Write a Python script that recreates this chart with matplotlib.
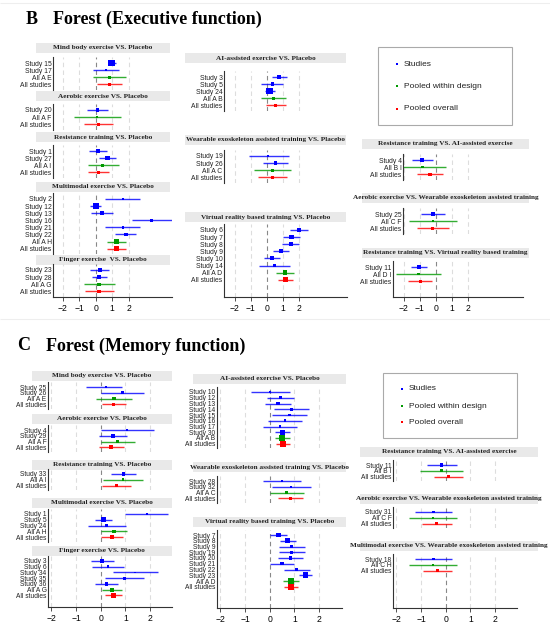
import matplotlib
matplotlib.use('Agg')
import matplotlib.pyplot as plt
from matplotlib.patches import Rectangle

W, H = 550, 632
BLUE, GREEN, RED = '#0000FF', '#009900', '#FF0000'
SANS = 'Liberation Sans'
SERIF = 'Liberation Serif'

# ---------------- data: B  Forest (Executive function) ----------------
b_mind_lab = ['Study 15', 'Study 17', 'All A E', 'All studies']
b_mind_est = [0.97, 0.63, 0.83, 0.83]
b_mind_lo = [0.73, -0.14, -0.14, 0.06]
b_mind_hi = [1.21, 1.43, 1.82, 1.60]
b_mind_wt = [5, 2, 2, 2.5]

b_aer_lab = ['Study 20', 'All A F', 'All studies']
b_aer_est = [0.10, 0.10, 0.16]
b_aer_lo = [-0.55, -1.31, -0.69]
b_aer_hi = [0.75, 1.52, 1.03]
b_aer_wt = [2.5, 1.5, 2]

b_res_lab = ['Study 1', 'Study 27', 'All A I', 'All studies']
b_res_est = [0.12, 0.73, 0.42, 0.16]
b_res_lo = [-0.38, 0.22, -0.50, -0.46]
b_res_hi = [0.67, 1.23, 1.41, 0.83]
b_res_wt = [3, 3.5, 2, 2.5]

b_mul_lab = ['Study 2', 'Study 12', 'Study 13', 'Study 16', 'Study 21', 'Study 22', 'All A H', 'All studies']
b_mul_est = [1.66, 0.00, 0.36, 3.41, 1.66, 1.82, 1.27, 1.25]
b_mul_lo = [0.59, -0.32, -0.26, 2.20, 0.59, 1.19, 0.69, 0.69]
b_mul_hi = [2.73, 0.34, 1.03, 4.65, 2.73, 2.48, 1.84, 1.82]
b_mul_wt = [2, 4.5, 3, 2, 2, 3, 3.5, 3.5]

b_fin_lab = ['Study 23', 'Study 28', 'All A G', 'All studies']
b_fin_est = [0.24, 0.20, 0.20, 0.20]
b_fin_lo = [-0.32, -0.24, -0.73, -0.63]
b_fin_hi = [0.81, 0.67, 1.19, 1.09]
b_fin_wt = [3, 3.5, 2.5, 2.5]

b_ai_lab = ['Study 3', 'Study 5', 'Study 24', 'All A B', 'All studies']
b_ai_est = [0.74, 0.33, 0.14, 0.39, 0.54]
b_ai_lo = [0.29, -0.37, -0.12, -0.37, -0.08]
b_ai_hi = [1.26, 1.01, 0.47, 1.20, 1.18]
b_ai_wt = [3.5, 2.5, 5, 2.5, 2.5]

b_wea_lab = ['Study 19', 'Study 26', 'All A C', 'All studies']
b_wea_est = [0.06, 0.52, 0.35, 0.33]
b_wea_lo = [-1.13, -0.23, -0.78, -0.54]
b_wea_hi = [1.36, 1.28, 1.48, 1.22]
b_wea_wt = [2, 2.5, 2, 2.5]

b_vr_lab = ['Study 6', 'Study 7', 'Study 8', 'Study 9', 'Study 10', 'Study 14', 'All A D', 'All studies']
b_vr_est = [1.96, 1.53, 1.46, 0.85, 0.31, 0.45, 1.11, 1.13]
b_vr_lo = [1.40, 1.01, 0.91, 0.35, -0.16, -0.52, 0.56, 0.66]
b_vr_hi = [2.54, 2.04, 1.98, 1.36, 0.82, 1.40, 1.69, 1.63]
b_vr_wt = [3, 3.5, 3, 3, 3, 2, 3.5, 3.5]

b_rai_lab = ['Study 4', 'All B I', 'All studies']
b_rai_est = [-0.85, -0.85, -0.38]
b_rai_lo = [-1.48, -2.29, -1.17]
b_rai_hi = [-0.21, 0.63, 0.42]
b_rai_wt = [3, 2, 2.5]

b_aw_lab = ['Study 25', 'All C F', 'All studies']
b_aw_est = [-0.17, -0.19, -0.23]
b_aw_lo = [-0.92, -1.67, -1.21]
b_aw_hi = [0.58, 1.31, 0.79]
b_aw_wt = [3, 1.5, 2.5]

b_rvr_lab = ['Study 11', 'All D I', 'All studies']
b_rvr_est = [-1.06, -1.08, -0.98]
b_rvr_lo = [-1.58, -2.46, -1.71]
b_rvr_hi = [-0.56, 0.31, -0.23]
b_rvr_wt = [3.5, 2, 2.5]

# ---------------- data: C  Forest (Memory function) ----------------
c_mind_lab = ['Study 25', 'Study 26', 'All A E', 'All studies']
c_mind_est = [0.22, 0.88, 0.54, 0.51]
c_mind_lo = [-0.58, 0.03, -0.18, 0.04]
c_mind_hi = [0.86, 1.74, 1.27, 1.01]
c_mind_wt = [2, 2, 2.5, 2.5]

c_aer_lab = ['Study 4', 'Study 29', 'All A F', 'All studies']
c_aer_est = [1.07, 0.50, 0.68, 0.43]
c_aer_lo = [0.01, -0.07, 0.00, -0.07]
c_aer_hi = [2.14, 1.08, 1.38, 0.93]
c_aer_wt = [1.5, 3, 2.5, 3]

c_res_lab = ['Study 33', 'All A I', 'All studies']
c_res_est = [0.91, 0.91, 0.65]
c_res_lo = [0.41, 0.09, 0.07]
c_res_hi = [1.42, 1.70, 1.23]
c_res_wt = [2.5, 2, 2.5]

c_mul_lab = ['Study 1', 'Study 5', 'Study 24', 'All A H', 'All studies']
c_mul_est = [1.86, 0.12, 0.24, 0.54, 0.47]
c_mul_lo = [1.00, -0.23, -0.50, 0.03, 0.03]
c_mul_hi = [2.74, 0.46, 1.01, 1.05, 0.92]
c_mul_wt = [1.5, 3.5, 2, 2.5, 3]

c_fin_lab = ['Study 3', 'Study 6', 'Study 34', 'Study 35', 'Study 36', 'All A G', 'All studies']
c_fin_est = [0.05, 0.30, 1.40, 0.96, 0.24, 0.46, 0.51]
c_fin_lo = [-0.41, -0.35, 0.51, 0.19, -0.23, 0.05, 0.18]
c_fin_hi = [0.53, 0.96, 2.30, 1.77, 0.72, 0.85, 0.88]
c_fin_wt = [2.5, 2, 1.5, 2, 2.5, 3, 3.5]

c_ai_lab = ['Study 10', 'Study 12', 'Study 13', 'Study 14', 'Study 15', 'Study 16', 'Study 17', 'Study 30',
            'All A B', 'All studies']
c_ai_est = [0.00, 0.43, 0.34, 0.88, 0.80, 0.62, 0.41, 0.53, 0.51, 0.53]
c_ai_lo = [-0.77, -0.09, -0.19, 0.19, 0.11, -0.05, -0.27, 0.22, 0.22, 0.26]
c_ai_hi = [0.81, 0.99, 0.86, 1.58, 1.50, 1.32, 1.09, 0.84, 0.81, 0.81]
c_ai_wt = [1.5, 2.5, 2.5, 2, 2, 2, 2, 4, 4.5, 4.5]

c_wea_lab = ['Study 28', 'Study 32', 'All A C', 'All studies']
c_wea_est = [0.50, 0.88, 0.68, 0.84]
c_wea_lo = [-0.26, 0.09, 0.00, 0.32]
c_wea_hi = [1.27, 1.68, 1.38, 1.34]
c_wea_wt = [2, 1.5, 2, 2.5]

c_vr_lab = ['Study 7', 'Study 8', 'Study 9', 'Study 19', 'Study 20', 'Study 21', 'Study 22', 'Study 23',
            'All A D', 'All studies']
c_vr_est = [0.35, 0.73, 0.88, 0.89, 0.84, 0.50, 1.09, 1.45, 0.86, 0.86]
c_vr_lo = [0.03, 0.41, 0.36, 0.36, 0.32, 0.01, 0.57, 1.19, 0.55, 0.59]
c_vr_hi = [0.69, 1.08, 1.41, 1.43, 1.36, 0.99, 1.64, 1.72, 1.18, 1.15]
c_vr_wt = [3.5, 3.5, 2.5, 2.5, 2.5, 2.5, 2.5, 4.5, 4.5, 4.5]

c_rai_lab = ['Study 11', 'All B I', 'All studies']
c_rai_est = [-0.18, -0.18, 0.12]
c_rai_lo = [-0.77, -1.03, -0.46]
c_rai_hi = [0.45, 0.70, 0.70]
c_rai_wt = [2.5, 2, 2.5]

c_aw_lab = ['Study 31', 'All C F', 'All studies']
c_aw_est = [-0.50, -0.50, -0.36]
c_aw_lo = [-1.26, -1.47, -0.97]
c_aw_hi = [0.24, 0.47, 0.24]
c_aw_wt = [2, 1.5, 2]

c_mw_lab = ['Study 18', 'All C H', 'All studies']
c_mw_est = [-0.50, -0.50, -0.32]
c_mw_lo = [-1.26, -1.47, -0.91]
c_mw_hi = [0.26, 0.47, 0.26]
c_mw_wt = [2, 1.5, 2]

ticks = [-2, -1, 0, 1, 2]
legend_labels = ['Studies', 'Pooled within design', 'Pooled overall']

fig = plt.figure(figsize=(W / 100, H / 100), dpi=100)
canvas = fig.add_axes([0, 0, 1, 1], zorder=0)
canvas.set_xlim(0, W)
canvas.set_ylim(H, 0)
canvas.axis('off')


def row_color(lab):
    if lab == 'All studies':
        return RED
    if lab.startswith('All'):
        return GREEN
    return BLUE


def panel(col, title, y_title, y0, step, lab, est, lo, hi, wt, last=False, left=None):
    # gray title bar
    bx0, bx1 = col['bar']
    canvas.add_patch(Rectangle((bx0, y_title - 5), bx1 - bx0, 10, color='#E9E9E9', lw=0))
    canvas.text((bx0 + bx1) / 2, y_title, title, ha='center', va='center', fontsize=5.2,
                family=SERIF, weight='bold', color='#222222')
    ys = [y0 + i * step for i in range(len(lab))]
    top = ys[0] - step * 0.8
    bot = col['axis_y'] if last else ys[-1] + step * 0.8
    lpx = col['left'] if left is None else left
    rpx = col['right']
    ax = fig.add_axes([lpx / W, 1 - bot / H, (rpx - lpx) / W, (bot - top) / H], zorder=1)
    ax.set_facecolor('none')
    ax.set_xlim((lpx - col['zero']) / col['unit'], (rpx - col['zero']) / col['unit'])
    ax.set_ylim(bot, top)
    for t in ticks:
        ax.axvline(t, color='#888888' if t == 0 else '#DDDDDD', lw=0.8,
                   ls=(0, (4, 3)), zorder=0)
    cols = [row_color(l) for l in lab]
    ax.hlines(ys, lo, hi, colors=cols, lw=1.0, alpha=0.8, zorder=2)
    ax.scatter(est, ys, s=[(w * 0.95) ** 2 for w in wt], c=cols, marker='s', lw=0, zorder=3)
    ax.set_yticks(ys)
    ax.set_yticklabels(lab, fontsize=col['fs'], family=SANS, color='#222222')
    ax.tick_params(axis='y', length=0, pad=1)
    for s in ['top', 'right']:
        ax.spines[s].set_visible(False)
    ax.spines['left'].set_color('#333333')
    ax.spines['left'].set_linewidth(0.8)
    if last:
        ax.spines['bottom'].set_color('#333333')
        ax.spines['bottom'].set_linewidth(0.8)
        ax.set_xticks(ticks)
        ax.set_xticklabels([str(t).replace('-', '\u2212') for t in ticks], fontsize=6.2, family=SANS)
        ax.tick_params(axis='x', length=3, width=0.6, pad=2, color='#333333')
    else:
        ax.spines['bottom'].set_visible(False)
        ax.set_xticks([])
    return ax


def legend(x0, y0, w, h, ys):
    canvas.add_patch(Rectangle((x0, y0), w, h, fill=False, ec='#AAAAAA', lw=0.8))
    for yy, c, t in zip(ys, [BLUE, GREEN, RED], legend_labels):
        canvas.scatter([x0 + 19], [yy], s=1.5, c=c, marker='s', lw=0)
        canvas.text(x0 + 26, yy, t, va='center', fontsize=6, family=SANS, color='#222222')


# faint separators
canvas.hlines([3, 319], 0, W, color='#EEEEEE', lw=0.8)

# section titles
canvas.text(26, 19, 'B', fontsize=13, family=SERIF, weight='bold', va='center')
canvas.text(53, 19, 'Forest (Executive function)', fontsize=13, family=SERIF, weight='bold', va='center')
canvas.text(17, 346, 'C', fontsize=13, family=SERIF, weight='bold', va='center')
canvas.text(46, 346, 'Forest (Memory function)', fontsize=13, family=SERIF, weight='bold', va='center')

B1 = dict(zero=95.7, unit=16.4, left=53, right=172, bar=(36, 170), axis_y=297, fs=4.9)
B2 = dict(zero=267, unit=16.2, left=224, right=347, bar=(185, 346), axis_y=297, fs=4.9)
B3 = dict(zero=436, unit=16.1, left=403, right=523, bar=(362, 529), axis_y=297, fs=4.9)
C1 = dict(zero=100.7, unit=24.7, left=48, right=172, bar=(32, 172), axis_y=607, fs=4.8)
C2 = dict(zero=269.7, unit=24.7, left=217, right=342, bar=(193, 346), axis_y=608, fs=4.8)
C3 = dict(zero=445.7, unit=24.7, left=393, right=517, bar=(360, 538), axis_y=608, fs=4.8)

sb, sc = 7.1, 5.75

panel(B1, 'Mind body exercise VS. Placebo', 48, 63, sb, b_mind_lab, b_mind_est, b_mind_lo, b_mind_hi, b_mind_wt)
panel(B1, 'Aerobic exercise VS. Placebo', 96, 110, sb, b_aer_lab, b_aer_est, b_aer_lo, b_aer_hi, b_aer_wt)
panel(B1, 'Resistance training VS. Placebo', 137, 151, sb, b_res_lab, b_res_est, b_res_lo, b_res_hi, b_res_wt)
panel(B1, 'Multimodal exercise VS. Placebo', 187, 199, sb, b_mul_lab, b_mul_est, b_mul_lo, b_mul_hi, b_mul_wt)
panel(B1, 'Finger exercise  VS. Placebo', 259.5, 270, sb, b_fin_lab, b_fin_est, b_fin_lo, b_fin_hi, b_fin_wt,
      last=True)

panel(B2, 'AI-assisted exercise VS. Placebo', 58, 77, sb, b_ai_lab, b_ai_est, b_ai_lo, b_ai_hi, b_ai_wt)
panel(B2, 'Wearable exoskeleton assisted training VS. Placebo', 139.5, 156, sb,
      b_wea_lab, b_wea_est, b_wea_lo, b_wea_hi, b_wea_wt)
panel(B2, 'Virtual reality based training VS. Placebo', 217, 230, sb,
      b_vr_lab, b_vr_est, b_vr_lo, b_vr_hi, b_vr_wt, last=True)

legend(378, 47, 134, 78, [64, 86, 109])
panel(B3, 'Resistance training VS. AI-assisted exercise', 144, 160, sb,
      b_rai_lab, b_rai_est, b_rai_lo, b_rai_hi, b_rai_wt)
panel(B3, 'Aerobic exercise VS. Wearable exoskeleton assisted training', 197.5, 214, sb,
      b_aw_lab, b_aw_est, b_aw_lo, b_aw_hi, b_aw_wt)
panel(B3, 'Resistance training VS. Virtual reality based training', 252.5, 267, sb,
      b_rvr_lab, b_rvr_est, b_rvr_lo, b_rvr_hi, b_rvr_wt, last=True, left=393)

panel(C1, 'Mind body exercise VS. Placebo', 376, 387, sc, c_mind_lab, c_mind_est, c_mind_lo, c_mind_hi, c_mind_wt)
panel(C1, 'Aerobic exercise VS. Placebo', 419, 430, sc, c_aer_lab, c_aer_est, c_aer_lo, c_aer_hi, c_aer_wt)
panel(C1, 'Resistance training VS. Placebo', 464.5, 474, sc, c_res_lab, c_res_est, c_res_lo, c_res_hi, c_res_wt)
panel(C1, 'Multimodal exercise VS. Placebo', 502.5, 514, sc, c_mul_lab, c_mul_est, c_mul_lo, c_mul_hi, c_mul_wt)
panel(C1, 'Finger exercise VS. Placebo', 550.5, 561, sc, c_fin_lab, c_fin_est, c_fin_lo, c_fin_hi, c_fin_wt,
      last=True)

panel(C2, 'AI-assisted exercise VS. Placebo', 378.5, 392, sc, c_ai_lab, c_ai_est, c_ai_lo, c_ai_hi, c_ai_wt)
panel(C2, 'Wearable exoskeleton assisted training VS. Placebo', 467, 481, sc,
      c_wea_lab, c_wea_est, c_wea_lo, c_wea_hi, c_wea_wt)
panel(C2, 'Virtual reality based training VS. Placebo', 521.5, 535, sc,
      c_vr_lab, c_vr_est, c_vr_lo, c_vr_hi, c_vr_wt, last=True)

legend(383, 373, 134, 65, [389, 406, 422])
panel(C3, 'Resistance training VS. AI-assisted exercise', 452, 465, sc,
      c_rai_lab, c_rai_est, c_rai_lo, c_rai_hi, c_rai_wt)
panel(C3, 'Aerobic exercise VS. Wearable exoskeleton assisted training', 498.5, 512, sc,
      c_aw_lab, c_aw_est, c_aw_lo, c_aw_hi, c_aw_wt)
panel(C3, 'Multimodal exercise VS. Wearable exoskeleton assisted training', 546, 559, sc,
      c_mw_lab, c_mw_est, c_mw_lo, c_mw_hi, c_mw_wt, last=True)

fig.savefig('out.png', dpi=100)
